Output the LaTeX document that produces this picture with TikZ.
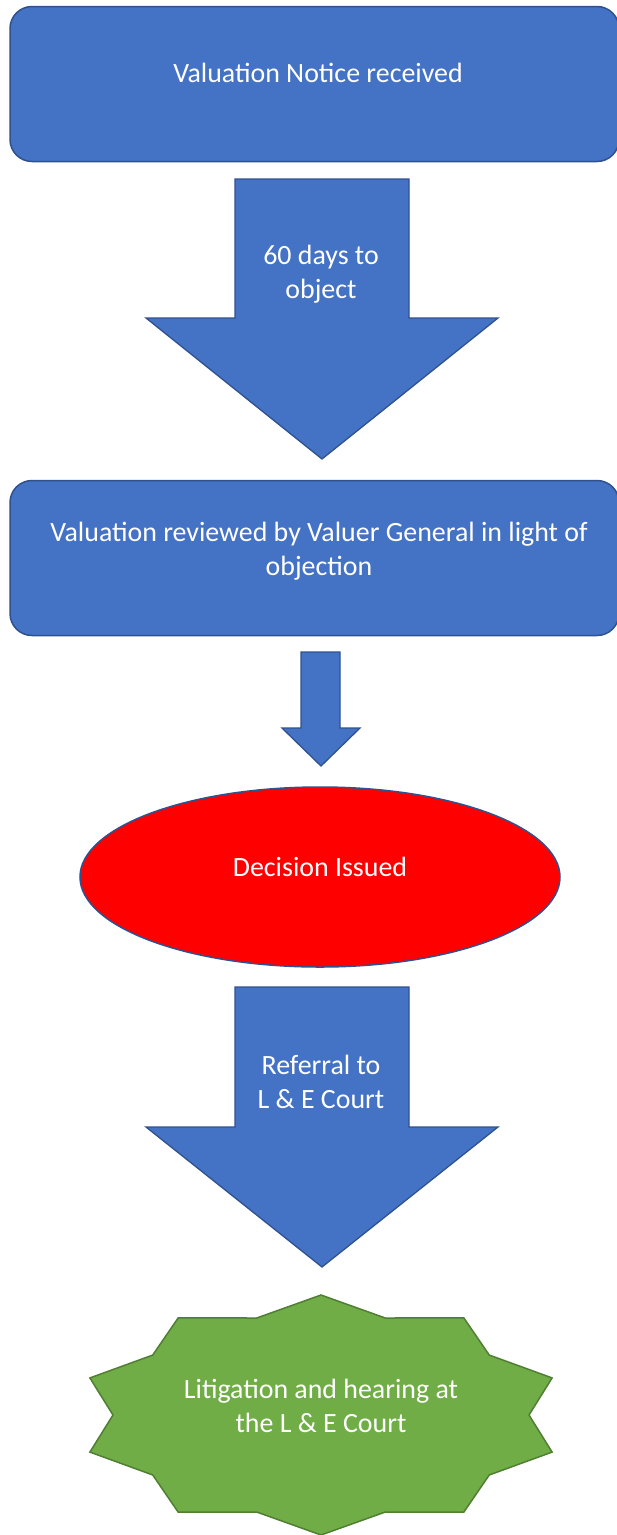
\documentclass[tikz,border=0pt]{standalone}
\usepackage{fontspec}
\setmainfont{Carlito}
\usetikzlibrary{shapes.geometric}
\definecolor{boxblue}{HTML}{4472C4}
\definecolor{edgeblue}{HTML}{2F528F}
\definecolor{starfill}{HTML}{70AD47}
\definecolor{staredge}{HTML}{507E32}
\definecolor{ovalred}{HTML}{FF0000}
\tikzset{
  bluebox/.style={draw=edgeblue, line width=1.5pt, fill=boxblue, rounded corners=22pt, minimum width=609pt, minimum height=155pt, inner sep=0pt},
  blockarrow/.style={draw=edgeblue, line width=1.3pt, fill=boxblue, line join=miter},
  oval/.style={ellipse, draw=edgeblue, line width=1.5pt, fill=ovalred, minimum width=480pt, minimum height=180pt, inner sep=0pt},
  starshape/.style={draw=staredge, line width=1.5pt, fill=starfill, line join=miter},
  txt/.style={text=white, align=center, font=\fontsize{27.9}{34}\selectfont, inner sep=0pt}
}
\begin{document}
\begin{tikzpicture}[x=1pt, y=-1pt]
\useasboundingbox (0,0) rectangle (617,1535);
% top box
\node[bluebox] (box1) at (314.5,84) {};
\node[txt] (t1) at (318,73) {Valuation Notice received};
% arrow 1
\draw[blockarrow] (235,179) -- (409,179) -- (409,318) -- (498,318) -- (322,459) -- (146,318) -- (235,318) -- cycle;
\node[txt] (t2) at (321,274) {60 days to\\object};
% second box
\node[bluebox] (box2) at (314.5,558) {};
\node[txt] (t3) at (319,551) {Valuation reviewed by Valuer General in light of\\objection};
% small arrow
\draw[blockarrow] (301,652) -- (340,652) -- (340,728) -- (360,728) -- (321,766) -- (282,728) -- (301,728) -- cycle;
% ellipse
\node[oval] (dec) at (320,877) {};
\node[txt] (t4) at (320,867) {Decision Issued};
% arrow 3
\draw[blockarrow] (235,987) -- (409,987) -- (409,1127) -- (498,1127) -- (322,1267) -- (146,1127) -- (235,1127) -- cycle;
\node[txt] (t5) at (321,1082) {Referral to\\L \& E Court};
% star
\coordinate (sc) at (321,1415);
\draw[starshape] plot[samples at={0,...,19}, variable=\i]
  ({321+(mod(\i,2)==0 ? 243 : 208)*cos(90+18*\i)}, {1415-(mod(\i,2)==0 ? 120 : 102)*sin(90+18*\i)}) -- cycle;
\node[txt] (t6) at (321,1406) {Litigation and hearing at\\the L \& E Court};
\end{tikzpicture}
\end{document}
